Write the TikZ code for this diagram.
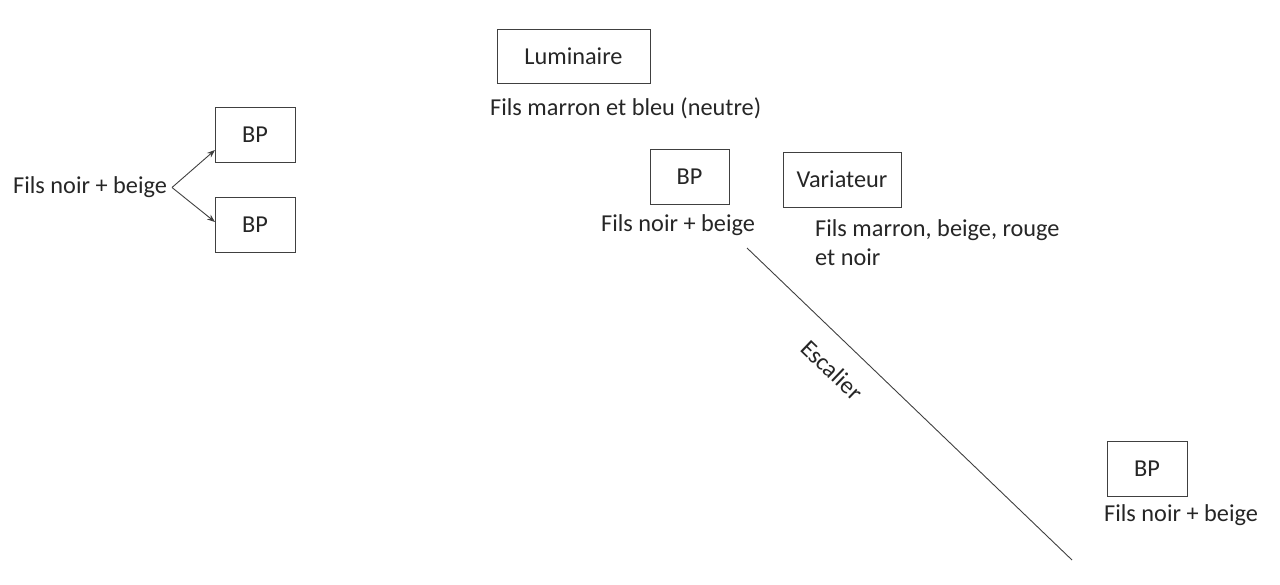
\documentclass[tikz,border=0pt]{standalone}
\usepackage{fontspec}
\setmainfont{Carlito}
\usetikzlibrary{arrows.meta}
\begin{document}
\begin{tikzpicture}[x=1pt,y=-1pt,
  every node/.style={font=\fontsize{24.3}{29}\selectfont, text=black!85},
  boxnode/.style={draw=black!75, line width=0.9pt, minimum height=55pt, inner sep=0pt},
  lbl/.style={inner sep=0pt, anchor=west},
  conn/.style={draw=black!75, line width=0.9pt},
  arr/.style={conn, -{Stealth[length=8pt,width=6pt]}}]
\useasboundingbox (0,0) rectangle (1280,585);
% left group
\node[boxnode, minimum width=80pt] (bp1) at (255,134.5) {BP};
\node[boxnode, minimum width=80pt] (bp2) at (255,224.5) {BP};
\node[lbl] (l1) at (13,187) {Fils noir + beige};
\coordinate (a1) at (215,150);
\coordinate (a2) at (215,222);
\coordinate (s0) at (172,187.5);
\draw[arr] (s0) -- (a1);
\draw[arr] (s0) -- (a2);
% luminaire
\node[boxnode, minimum width=153pt, minimum height=54pt] (lum) at (573.5,56) {Luminaire};
\node[lbl] (l2) at (490,108) {Fils marron et bleu (neutre)};
% middle BP
\node[boxnode, minimum width=79pt] (bp3) at (689.5,176.5) {BP};
\node[lbl] (l3) at (601,225) {Fils noir + beige};
% variateur
\node[boxnode, minimum width=118pt] (var) at (842,179.5) {Variateur};
\node[lbl, align=left] (l4) at (815,243) {Fils marron, beige, rouge\\et noir};
% escalier line
\coordinate (e1) at (747,248);
\coordinate (e2) at (1072,560);
\draw[conn] (e1) -- (e2);
\node[rotate=-43.8, inner sep=0pt] (esc) at (832,370) {Escalier};
% right BP
\node[boxnode, minimum width=80pt] (bp4) at (1147,468.5) {BP};
\node[lbl] (l5) at (1104,515) {Fils noir + beige};
\end{tikzpicture}
\end{document}
